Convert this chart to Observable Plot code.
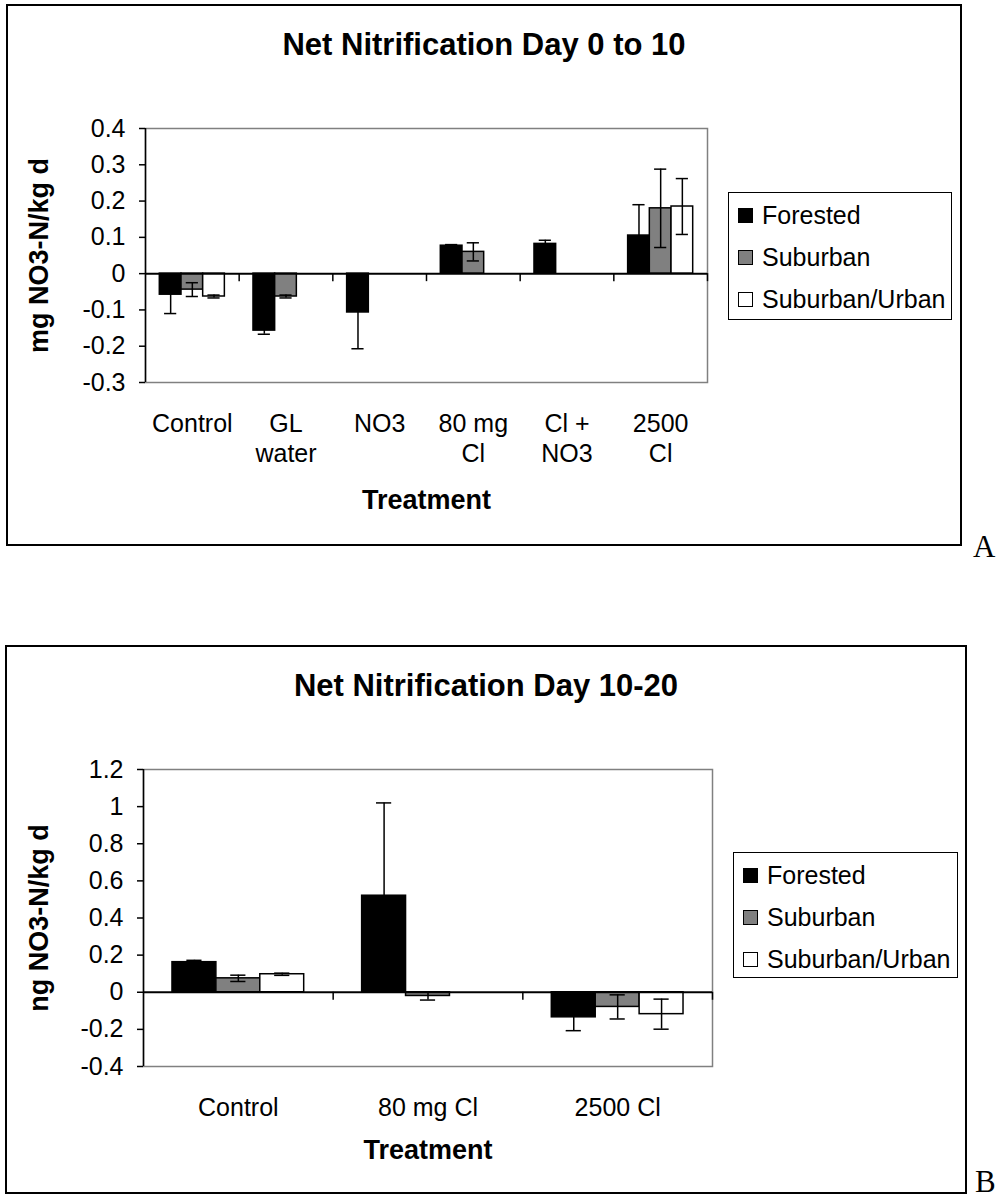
<!DOCTYPE html>
<html><head><meta charset="utf-8">
<script src="https://cdn.jsdelivr.net/npm/d3@7"></script>
<script src="https://cdn.jsdelivr.net/npm/@observablehq/plot@0.6"></script>
<style>
body{margin:0;background:#fff;font-family:"Liberation Sans",Arial,sans-serif;color:#000;}
#page{position:relative;width:998px;height:1203px;overflow:hidden;}
.frame{position:absolute;border:2px solid #000;box-sizing:border-box;}
.title{position:absolute;font-weight:bold;font-size:31px;line-height:31px;text-align:center;white-space:nowrap;}
.panel{position:absolute;font-family:"Liberation Serif","Times New Roman",serif;font-size:31px;line-height:31px;}
.legend{position:absolute;border:1.5px solid #000;box-sizing:border-box;background:#fff;font-size:25px;}
.legend .row{position:absolute;left:9px;display:flex;align-items:center;height:30px;white-space:nowrap;}
.legend .sw{width:15px;height:15px;border:1px solid #000;box-sizing:border-box;margin-right:9px;}
.chart{position:absolute;left:0;}
</style>
</head><body><div id="page"></div>
<script>
// ---------- data ----------
const seriesNames = ["Forested", "Suburban", "Suburban/Urban"];
const seriesColors = ["#000000", "#808080", "#ffffff"];

// Chart A: Net Nitrification Day 0 to 10
const titleA = "Net Nitrification Day 0 to 10";
const yLabelA = "mg NO3-N/kg d";
const categoriesA = ["Control", "GL\nwater", "NO3", "80 mg\nCl", "Cl +\nNO3", "2500\nCl"];
const forestedA = [-0.058, -0.157, -0.107, 0.077, 0.082, 0.105];
const suburbanA = [-0.044, -0.063, null, 0.060, null, 0.180];
const urbanA = [-0.063, null, null, null, null, 0.185];
const forestedErrA = [0.052, 0.010, 0.100, 0.003, 0.010, 0.085];
const suburbanErrA = [0.019, 0.004, null, 0.025, null, 0.108];
const urbanErrA = [0.004, null, null, null, null, 0.077];
const yTicksA = [-0.3, -0.2, -0.1, 0, 0.1, 0.2, 0.3, 0.4];

// Chart B: Net Nitrification Day 10-20
const titleB = "Net Nitrification Day 10-20";
const yLabelB = "ng NO3-N/kg d";
const categoriesB = ["Control", "80 mg Cl", "2500 Cl"];
const forestedB = [0.162, 0.520, -0.135];
const suburbanB = [0.075, -0.020, -0.079];
const urbanB = [0.097, null, -0.118];
const forestedErrB = [0.010, 0.500, 0.072];
const suburbanErrB = [0.017, 0.022, 0.065];
const urbanErrB = [0.006, null, 0.081];
const yTicksB = [-0.4, -0.2, 0, 0.2, 0.4, 0.6, 0.8, 1, 1.2];

const xLabel = "Treatment";

// ---------- drawing ----------
const page = document.getElementById("page");
const FONT = "Liberation Sans, Arial, sans-serif";

function el(cls, css, text) {
  const d = document.createElement("div");
  d.className = cls;
  Object.assign(d.style, css);
  if (text != null) d.textContent = text;
  page.appendChild(d);
  return d;
}

function legend(css) {
  const box = el("legend", css);
  seriesNames.forEach((s, i) => {
    const row = document.createElement("div");
    row.className = "row";
    row.style.top = (7 + i * 42) + "px";
    const sw = document.createElement("div");
    sw.className = "sw";
    sw.style.background = seriesColors[i];
    const t = document.createElement("span");
    t.textContent = s;
    row.appendChild(sw); row.appendChild(t);
    box.appendChild(row);
  });
}

function chart(o) {
  const n = o.categories.length;
  const gap = 0.66;                 // outer gap in bar widths
  const f = 1 / (3 + 2 * gap);      // bar width as fraction of a category
  const pad = gap * f;
  const vals = [o.forested, o.suburban, o.urban];
  const errs = [o.forestedErr, o.suburbanErr, o.urbanErr];
  const rows = [];
  seriesNames.forEach((s, si) => vals[si].forEach((v, ci) => {
    if (v == null) return;
    rows.push({cat: ci, si, series: s, v, e: errs[si][ci],
      x1: ci + pad + si * f, x2: ci + pad + (si + 1) * f, xc: ci + pad + (si + 0.5) * f});
  }));
  const errRows = rows.filter(d => d.e != null);
  const cap = o.capFrac;
  const svg = Plot.plot({
    width: 998, height: o.height,
    marginLeft: o.mLeft, marginRight: 998 - o.pRight, marginTop: o.mTop, marginBottom: o.mBottom,
    style: {fontFamily: FONT, background: "transparent", overflow: "visible", color: "#000"},
    x: {domain: [0, n], axis: null},
    y: {domain: [o.yTicks[0], o.yTicks[o.yTicks.length - 1]], axis: null},
    color: {domain: seriesNames, range: seriesColors},
    marks: [
      Plot.rectY(rows, {x1: "x1", x2: "x2", y1: 0, y2: "v", fill: "series", stroke: "#000", strokeWidth: 1.5}),
      Plot.frame({stroke: "#808080", strokeWidth: 1.5}),
      Plot.ruleX([0], {stroke: "#000", strokeWidth: 1.5}),
      Plot.ruleY([0], {stroke: "#000", strokeWidth: 2}),
      Plot.ruleX(d3.range(1, n + 1), {y1: 0, y2: 0, insetBottom: -8, stroke: "#000", strokeWidth: 1.5}),
      Plot.ruleX(errRows, {x: "xc", y1: d => d.v - d.e, y2: d => d.v + d.e, stroke: "#000", strokeWidth: 1.5}),
      Plot.ruleY(errRows, {y: d => d.v + d.e, x1: d => d.xc - cap, x2: d => d.xc + cap, stroke: "#000", strokeWidth: 1.5}),
      Plot.ruleY(errRows, {y: d => d.v - d.e, x1: d => d.xc - cap, x2: d => d.xc + cap, stroke: "#000", strokeWidth: 1.5}),
      Plot.axisY({ticks: o.yTicks, tickSize: 6, tickPadding: 14, tickFormat: d => String(d), fontSize: 25, label: null, strokeWidth: 1.5}),
      Plot.axisX({ticks: d3.range(n).map(i => i + 0.5), tickSize: 0, tickPadding: 28, tickFormat: d => o.categories[Math.floor(d)], fontSize: 25, lineHeight: 1.2, label: null}),
      Plot.text([xLabel], {frameAnchor: "bottom", dy: o.xLabelDy, lineAnchor: "middle", fontWeight: "bold", fontSize: 27}),
      Plot.text([o.yLabel], {frameAnchor: "left", rotate: -90, dx: o.yLabelDx, lineAnchor: "middle", textAnchor: "middle", fontWeight: "bold", fontSize: 27})
    ]
  });
  svg.classList.add("chart");
  svg.style.position = "absolute";
  svg.style.top = o.top + "px";
  svg.style.left = "0px";
  page.appendChild(svg);
}

// Panel A
el("frame", {left: "6px", top: "4px", width: "956px", height: "542px"});
el("title", {left: "6px", top: "29px", width: "956px"}, titleA);
chart({top: 0, height: 560, mLeft: 145, pRight: 707, mTop: 128, mBottom: 560 - 382,
  categories: categoriesA, forested: forestedA, suburban: suburbanA, urban: urbanA,
  forestedErr: forestedErrA, suburbanErr: suburbanErrA, urbanErr: urbanErrA,
  yTicks: yTicksA, yLabel: yLabelA, capFrac: 0.065, xLabelDy: 118, yLabelDx: -106});
legend({left: "728px", top: "192px", width: "224px", height: "128px"});
el("panel", {left: "973px", top: "531px"}, "A");

// Panel B
el("frame", {left: "5px", top: "645px", width: "962px", height: "549px"});
el("title", {left: "5px", top: "670px", width: "962px"}, titleB);
chart({top: 640, height: 563, mLeft: 143, pRight: 712, mTop: 129, mBottom: 640 + 563 - 1066,
  categories: categoriesB, forested: forestedB, suburban: suburbanB, urban: urbanB,
  forestedErr: forestedErrB, suburbanErr: suburbanErrB, urbanErr: urbanErrB,
  yTicks: yTicksB, yLabel: yLabelB, capFrac: 0.04, xLabelDy: 84, yLabelDx: -104});
legend({left: "733px", top: "852px", width: "225px", height: "126px"});
el("panel", {left: "975px", top: "1166px"}, "B");
</script>
</body></html>
